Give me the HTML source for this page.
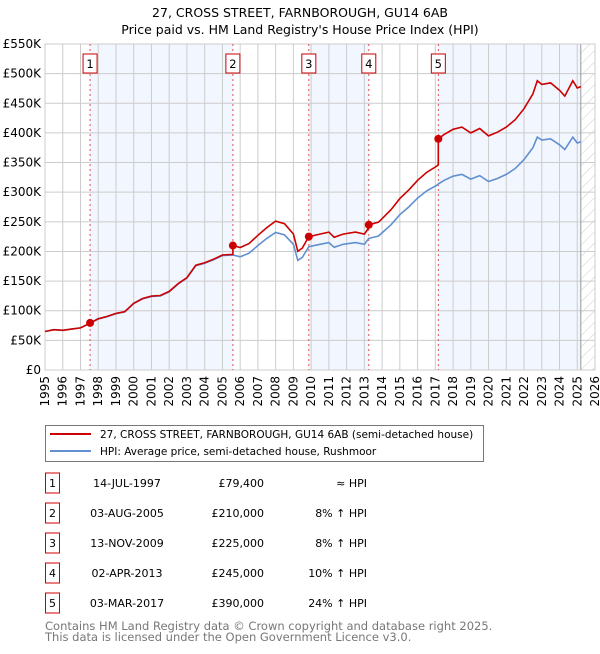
<!DOCTYPE html>
<html><head><meta charset="utf-8"><style>
body{margin:0;background:#fff;width:600px;height:650px;overflow:hidden;font-family:"DejaVu Sans","Liberation Sans",sans-serif}
svg text{font-family:"DejaVu Sans","Liberation Sans",sans-serif}
</style></head><body>
<svg id="c" width="600" height="650" xmlns="http://www.w3.org/2000/svg">
<text x="300" y="17" text-anchor="middle" font-size="12.5">27, CROSS STREET, FARNBOROUGH, GU14 6AB</text>
<text x="300" y="34" text-anchor="middle" font-size="12.5">Price paid vs. HM Land Registry's House Price Index (HPI)</text>
<g id="plot"></g>
<g>
<rect x="45.5" y="425.5" width="438" height="36" fill="#fff" stroke="#777"/>
<line x1="50" y1="434" x2="91" y2="434" stroke="#cc0000" stroke-width="2"/>
<text x="100" y="438" font-size="10.5">27, CROSS STREET, FARNBOROUGH, GU14 6AB (semi-detached house)</text>
<line x1="50" y1="451" x2="91" y2="451" stroke="#6090d0" stroke-width="2"/>
<text x="100" y="455" font-size="10.5">HPI: Average price, semi-detached house, Rushmoor</text>
</g>
<g id="table" font-size="11"></g>
<text x="45" y="630" font-size="11.5" fill="#777">Contains HM Land Registry data © Crown copyright and database right 2025.</text>
<text x="45" y="641" font-size="11.5" fill="#777">This data is licensed under the Open Government Licence v3.0.</text>
</svg>
<script>
const hpiYears=[1995,1995.5,1996,1996.5,1997,1997.54,1998,1998.5,1999,1999.5,2000,2000.5,2001,2001.5,2002,2002.5,2003,2003.5,2004,2004.5,2005,2005.59,2006,2006.5,2007,2007.5,2008,2008.5,2009,2009.25,2009.5,2009.87,2010.5,2011,2011.3,2011.8,2012.5,2013,2013.25,2013.8,2014.5,2015,2015.5,2016,2016.5,2017.1,2017.17,2017.5,2018,2018.5,2019,2019.5,2020,2020.5,2021,2021.5,2022,2022.5,2022.75,2023,2023.5,2024,2024.3,2024.75,2025,2025.2];
const hpiValues=[65,68,67,69,71,79,86,90,95,98,112,120,124,125,132,145,155,176,180,186,193,194,191,197,210,222,232,228,212,185,190,208,212,215,207,212,215,212,222,226,245,262,275,290,302,312,314,320,327,330,322,328,318,323,330,340,355,375,393,388,390,380,372,393,383,385];
const saleYears=[1997.54,2005.59,2009.87,2013.25,2017.17];
const salePrices=[79.4,210,225,245,390];
const saleDates=["14-JUL-1997","03-AUG-2005","13-NOV-2009","02-APR-2013","03-MAR-2017"];
const salePriceLabels=["£79,400","£210,000","£225,000","£245,000","£390,000"];
const saleHpiLabels=["≈ HPI","8% ↑ HPI","8% ↑ HPI","10% ↑ HPI","24% ↑ HPI"];
const yTicks=[0,50,100,150,200,250,300,350,400,450,500,550];
const yTickLabels=["£0","£50K","£100K","£150K","£200K","£250K","£300K","£350K","£400K","£450K","£500K","£550K"];
const xTicks=[1995,1996,1997,1998,1999,2000,2001,2002,2003,2004,2005,2006,2007,2008,2009,2010,2011,2012,2013,2014,2015,2016,2017,2018,2019,2020,2021,2022,2023,2024,2025,2026];
const dataEnd=2025.2;

const NS="http://www.w3.org/2000/svg";
const X0=45,X1=595,Y0=370,Y1=44;
const xs=y=>X0+(y-1995)/(2026-1995)*(X1-X0);
const ys=v=>Y0-v/550*(Y0-Y1);
const plot=document.getElementById('plot');
function mk(tag,attrs,parent){const e=document.createElementNS(NS,tag);for(const k in attrs)e.setAttribute(k,attrs[k]);(parent||plot).appendChild(e);return e;}
function hpiAt(t){for(let i=1;i<hpiYears.length;i++){if(t<=hpiYears[i]){const f=(t-hpiYears[i-1])/(hpiYears[i]-hpiYears[i-1]);return hpiValues[i-1]+f*(hpiValues[i]-hpiValues[i-1]);}}return hpiValues[hpiValues.length-1];}

const bands=[[0,1],[2,3],[4,null]];
bands.forEach((b,i)=>{const a=xs(saleYears[b[0]]);const e=b[1]==null?xs(dataEnd):xs(saleYears[b[1]]);
const r=mk('rect',{x:a,y:Y1,width:e-a,height:Y0-Y1,fill:'#eef3fd',opacity:0.75});

});
const defs=mk('defs',{});
const pat=mk('pattern',{id:'h',width:8,height:8,patternUnits:'userSpaceOnUse',patternTransform:'rotate(45)'},defs);
mk('line',{x1:0,y1:0,x2:0,y2:8,stroke:'#ccc','stroke-width':1},pat);
const hr=mk('rect',{x:xs(dataEnd),y:Y1,width:X1-xs(dataEnd),height:Y0-Y1,fill:'url(#h)'});


yTicks.forEach((v,i)=>{const l=mk('line',{x1:X0,x2:X1,y1:ys(v),y2:ys(v),stroke:'#ccc'});


const t=mk('text',{x:X0-4,y:ys(v)+4,'text-anchor':'end','font-size':12});t.textContent=yTickLabels[i];

});
xTicks.forEach(yr=>{const l=mk('line',{x1:xs(yr),x2:xs(yr),y1:Y1,y2:Y0,stroke:'#ccc'});


const t=mk('text',{x:0,y:0,'text-anchor':'end','font-size':12,transform:`translate(${xs(yr)+4},${Y0+6}) rotate(-90)`});t.textContent=yr;

});
mk('line',{x1:xs(dataEnd),x2:xs(dataEnd),y1:Y1,y2:Y0,stroke:'#999'});
mk('rect',{x:X0,y:Y1,width:X1-X0,height:Y0-Y1,fill:'none',stroke:'#ccc'});
saleYears.forEach((s,i)=>{const l=mk('line',{x1:xs(s),x2:xs(s),y1:Y1,y2:Y0,stroke:'#e05050','stroke-dasharray':'2,3','stroke-width':1});


const r=mk('rect',{x:xs(s)-7,y:54,width:14,height:19,fill:'#fff',stroke:'#cc0000'});


const t=mk('text',{x:xs(s),y:68,'text-anchor':'middle','font-size':11.5});t.textContent=i+1;

});
let d='';hpiYears.forEach((y,i)=>{d+=(i?'L':'M')+xs(y).toFixed(1)+','+ys(hpiValues[i]).toFixed(1);});
const hl=mk('path',{d,fill:'none',stroke:'#6090d0','stroke-width':1.6});


function factorAt(t){let f=1;saleYears.forEach((s,i)=>{if(t>=s)f=salePrices[i]/hpiAt(s);});return f;}
let pts=[];hpiYears.forEach((y,i)=>{pts.push([y,hpiValues[i]*factorAt(y)]);});
saleYears.forEach((s,i)=>{const prevF=i?salePrices[i-1]/hpiAt(saleYears[i-1]):1;pts.push([s-0.001,hpiAt(s)*prevF]);pts.push([s,salePrices[i]]);});
pts.sort((a,b)=>a[0]-b[0]);
let d2='';pts.forEach((p,i)=>{d2+=(i?'L':'M')+xs(p[0]).toFixed(1)+','+ys(p[1]).toFixed(1);});
const pl=mk('path',{d:d2,fill:'none',stroke:'#cc0000','stroke-width':1.6});


saleYears.forEach((s,i)=>{const c=mk('circle',{cx:xs(s),cy:ys(salePrices[i]),r:4,fill:'#cc0000'});

});
const tb=document.getElementById('table');
saleDates.forEach((dt,i)=>{const y=483+i*30;
const r=mk('rect',{x:45.5,y:y-10,width:14,height:20,fill:'#fff',stroke:'#cc0000'},tb);


const n=mk('text',{x:52.5,y:y+4,'text-anchor':'middle'},tb);n.textContent=i+1;


const a=mk('text',{x:127,y:y+4,'text-anchor':'middle'},tb);a.textContent=dt;


const b=mk('text',{x:264,y:y+4,'text-anchor':'end'},tb);b.textContent=salePriceLabels[i];


const c=mk('text',{x:367,y:y+4,'text-anchor':'end'},tb);c.textContent=saleHpiLabels[i];

});
</script>
</body></html>
